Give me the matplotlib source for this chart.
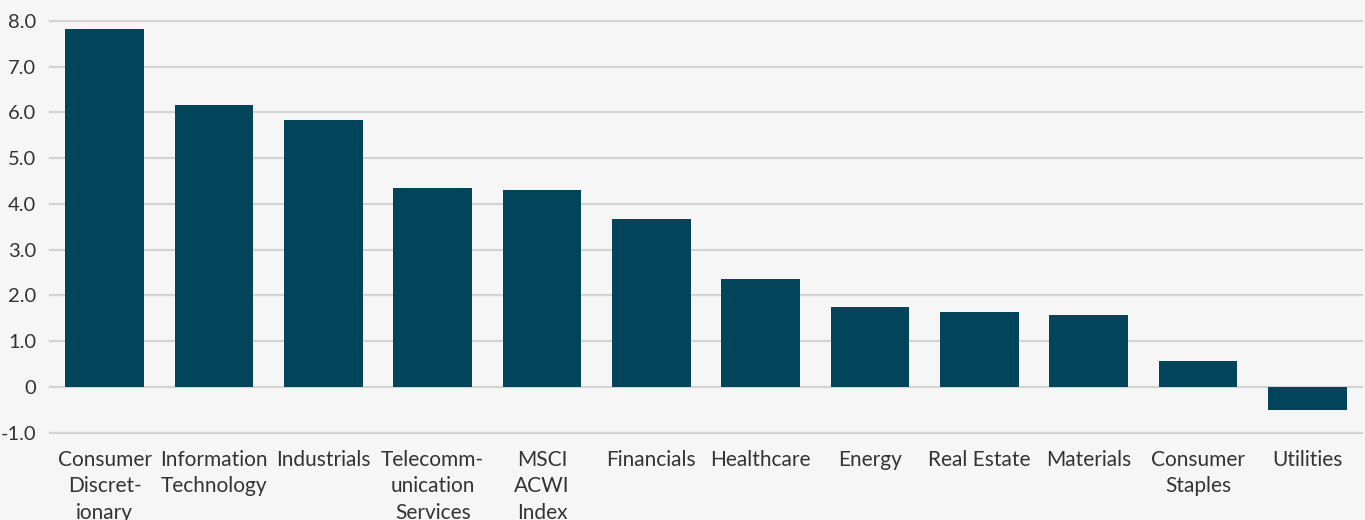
import matplotlib
matplotlib.use("Agg")
import matplotlib.pyplot as plt
from matplotlib.ticker import FuncFormatter

categories = ["Consumer\nDiscret-\nionary", "Information\nTechnology", "Industrials",
              "Telecomm-\nunication\nServices", "MSCI\nACWI\nIndex", "Financials",
              "Healthcare", "Energy", "Real Estate", "Materials", "Consumer\nStaples",
              "Utilities"]
values = [7.82, 6.16, 5.83, 4.34, 4.30, 3.66, 2.35, 1.74, 1.63, 1.56, 0.57, -0.50]
yticks = [-1, 0, 1, 2, 3, 4, 5, 6, 7, 8]

bg = "#f6f6f6"
bar_color = "#02455a"
grid_color = "#d4d4d4"
text_color = "#333333"

plt.rcParams['font.family'] = ['Lato', 'DejaVu Sans']

fig = plt.figure(figsize=(13.65, 5.2), dpi=100, facecolor=bg)
ax = fig.add_axes([50/1365, 1 - 432.5/520, (1362-50)/1365, (432.5-21)/520])
ax.set_facecolor(bg)

x = list(range(len(categories)))
ax.bar(x, values, width=0.72, color=bar_color, zorder=3)

ax.set_xlim(-0.5, len(categories) - 0.5)
ax.set_ylim(-1, 8)
ax.set_yticks(yticks)
ax.yaxis.set_major_formatter(FuncFormatter(lambda v, p: "0" if abs(v) < 1e-9 else f"{v:.1f}"))
for yv in yticks:
    ax.axhline(yv, color=grid_color, lw=1.6, zorder=1, clip_on=False)

ax.set_xticks(x)
ax.set_xticklabels(categories, linespacing=1.4)
ax.tick_params(axis='x', length=0, pad=12.5, labelsize=15, labelcolor=text_color)
ax.tick_params(axis='y', length=0, pad=10, labelsize=14.5, labelcolor=text_color)
for s in ax.spines.values():
    s.set_visible(False)

fig.savefig("out.png", dpi=100, facecolor=bg)
